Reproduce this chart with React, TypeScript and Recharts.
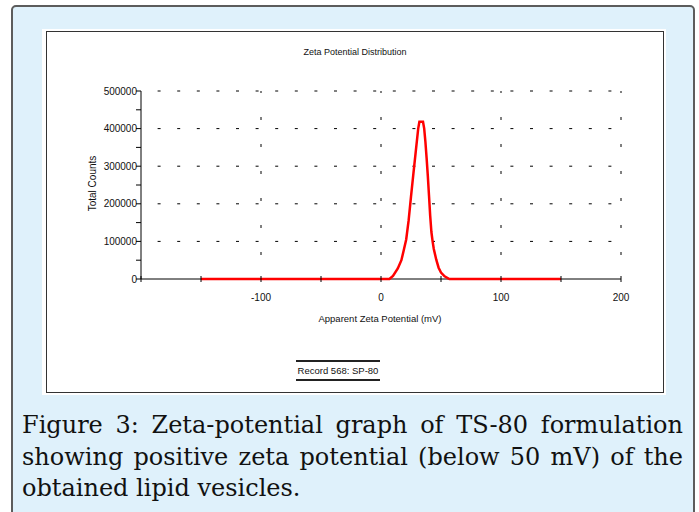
/**
 * ZetaPotentialFigure - zeta potential distribution with caption
 */

import { LineChart, Line, XAxis, YAxis, ReferenceLine } from 'recharts';

// apparent zeta potential (mV) and total counts
const zetaValues = [-150, 7, 10, 14, 17, 19, 21, 23, 25, 27, 29, 31, 32, 35, 36, 37, 38, 39, 40, 41, 42, 43, 44, 46, 48, 50, 53, 57, 150];
const countValues = [0, 0, 8000, 28000, 50000, 77000, 105000, 155000, 219000, 280000, 340000, 400000, 418000, 418000, 400000, 365000, 322000, 275000, 222000, 168000, 125000, 100000, 80000, 52000, 30000, 17000, 7000, 0, 0];

const xTicks = [-200, -150, -100, -50, 0, 50, 100, 150, 200];
const xLabelled = [-100, 0, 100, 200];
const yTicks = [0, 50000, 100000, 150000, 200000, 250000, 300000, 350000, 400000, 450000, 500000];
const yLabelled = [0, 100000, 200000, 300000, 400000, 500000];
const hGrid = [100000, 200000, 300000, 400000, 500000];
const vGrid = [-100, 0, 100, 200];

const captionLines = [
  'Figure 3: Zeta-potential graph of TS-80 formulation',
  'showing positive zeta potential (below 50 mV) of the',
  'obtained lipid vesicles.',
];

const chartData = zetaValues.map((z, i) => ({ zeta: z, counts: countValues[i] }));

const SANS = '"Liberation Sans", Arial, sans-serif';

const XTick = ({ x, y, payload }: any) => (
  <g>
    <line x1={x} x2={x} y1={y - 3} y2={y + 3} stroke="#000" />
    {xLabelled.includes(payload.value) && (
      <text x={x} y={y + 22} textAnchor="middle" fontSize={10} fontFamily={SANS} fill="#111">
        {payload.value}
      </text>
    )}
  </g>
);

const YTick = ({ x, y, payload }: any) => (
  <g>
    <line x1={x - 5} x2={x} y1={y} y2={y} stroke="#000" />
    {yLabelled.includes(payload.value) && (
      <text x={x - 4} y={y + 3.5} textAnchor="end" fontSize={10} fontFamily={SANS} fill="#111">
        {payload.value}
      </text>
    )}
  </g>
);

const App = () => {
  return (
    <div style={{ position: 'absolute', left: 0, top: 0, width: 699, height: 512, overflow: 'hidden', background: '#fff' }}>
      {/* blue figure panel */}
      <div
        style={{
          position: 'absolute',
          left: 11,
          top: 5,
          width: 680,
          height: 530,
          background: '#dff1fb',
          border: '2px solid #5c5c5c',
          borderRadius: 5,
        }}
      />

      {/* white chart frame */}
      <div style={{ position: 'absolute', left: 42, top: 29, width: 624, height: 366, background: '#fff' }} />
      <div
        style={{
          position: 'absolute',
          left: 46,
          top: 31,
          width: 616,
          height: 360,
          border: '1px solid #333',
          background: '#fff',
        }}
      />

      <div style={{ position: 'absolute', left: 46, top: 31 }}>
        <LineChart width={618} height={362} data={chartData} margin={{ top: 60, right: 43, left: 0, bottom: 0 }}>
          {hGrid.map((v) => (
            <ReferenceLine key={`h${v}`} y={v} stroke="#000" strokeDasharray="0 16.6 3 0" />
          ))}
          {vGrid.map((v) => (
            <ReferenceLine key={`v${v}`} x={v} stroke="#000" strokeDasharray="0 24 3 0" />
          ))}
          {/* x axis baseline drawn under the trace */}
          <ReferenceLine y={0} stroke="#000" />
          <XAxis
            type="number"
            dataKey="zeta"
            domain={[-200, 200]}
            ticks={xTicks}
            height={114}
            tickSize={0}
            tickMargin={0}
            tickLine={false}
            axisLine={false}
            tick={<XTick />}
            interval={0}
          />
          <YAxis
            type="number"
            domain={[0, 500000]}
            ticks={yTicks}
            width={95}
            tickSize={0}
            tickMargin={0}
            tickLine={false}
            axisLine={{ stroke: '#000' }}
            tick={<YTick />}
            interval={0}
          />
          <Line
            type="linear"
            dataKey="counts"
            stroke="#ff0000"
            strokeWidth={2.5}
            dot={false}
            isAnimationActive={false}
          />
        </LineChart>
      </div>

      {/* chart texts */}
      <div style={{ position: 'absolute', left: 255, top: 47, width: 200, textAlign: 'center', fontFamily: SANS, fontSize: 9, color: '#111' }}>
        Zeta Potential Distribution
      </div>
      <div
        style={{
          position: 'absolute',
          left: 42,
          top: 178,
          width: 100,
          textAlign: 'center',
          fontFamily: SANS,
          fontSize: 10,
          color: '#111',
          transform: 'rotate(-90deg)',
        }}
      >
        Total Counts
      </div>
      <div style={{ position: 'absolute', left: 280, top: 313, width: 200, textAlign: 'center', fontFamily: SANS, fontSize: 9.5, color: '#111' }}>
        Apparent Zeta Potential (mV)
      </div>
      <div
        style={{
          position: 'absolute',
          left: 296,
          top: 360,
          width: 84,
          textAlign: 'center',
          fontFamily: SANS,
          fontSize: 9.5,
          lineHeight: '17px',
          color: '#111',
          borderTop: '2px solid #222',
          borderBottom: '2px solid #222',
        }}
      >
        Record 568: SP-80
      </div>

      {/* caption */}
      <div style={{ position: 'absolute', left: 22, top: 410, width: 661, fontFamily: '"DejaVu Serif", serif', fontSize: 24, lineHeight: '31.5px', color: '#111' }}>
        {captionLines.map((line, i) => (
          <div key={i} style={{ textAlign: 'justify', textAlignLast: i < captionLines.length - 1 ? 'justify' : 'left', whiteSpace: 'nowrap' }}>
            {line}
          </div>
        ))}
      </div>
    </div>
  );
};

export default App;
